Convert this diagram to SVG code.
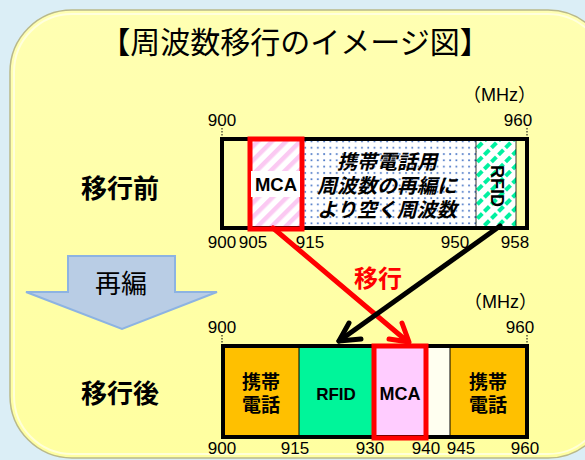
<svg xmlns="http://www.w3.org/2000/svg" width="585" height="460" viewBox="0 0 585 460">
<defs>
<style>
.jp{font-family:"Noto Sans CJK JP","Liberation Sans",sans-serif;}
.num{font-family:"Liberation Sans","Noto Sans CJK JP",sans-serif;font-size:17px;fill:#000;}
.mhz{font-family:"Noto Sans CJK JP","Liberation Sans",sans-serif;font-size:18px;fill:#000;}
.lat{font-family:"Liberation Sans",sans-serif;font-weight:bold;fill:#000;}
.bold{font-weight:bold;}
.band{fill:none;stroke:#000;stroke-width:4;}
.tick{stroke:#000;stroke-width:1;stroke-dasharray:1.5 1.5;}
</style>
<pattern id="dots" width="6.3" height="6.3" patternUnits="userSpaceOnUse" x="0" y="0">
<rect width="6.3" height="6.3" fill="#fff"/>
<rect x="2" y="2" width="1.7" height="1.7" fill="#4472c4"/>
</pattern>
<pattern id="pinkHatch" width="10" height="10" patternUnits="userSpaceOnUse" patternTransform="rotate(45)">
<rect width="10" height="10" fill="#fff"/>
<rect width="4.5" height="10" fill="#fbc9f2"/>
</pattern>
<pattern id="greenHatch" width="10" height="10" patternUnits="userSpaceOnUse" patternTransform="rotate(45)">
<rect width="10" height="10" fill="#fff"/>
<rect width="4" height="7" fill="#00f0a0"/>
</pattern>
<linearGradient id="panelG" x1="0" y1="0" x2="0" y2="1">
<stop offset="0" stop-color="#ffffb2"/>
<stop offset="1" stop-color="#ffffa0"/>
</linearGradient>
</defs>
<rect width="585" height="460" fill="#dbeef6"/>
<g id="panel">
<rect x="10" y="10" width="600" height="448" rx="62" ry="62" fill="url(#panelG)" stroke="#b9b98a" stroke-width="1.5"/>
<rect x="14" y="14" width="592" height="440" rx="58" ry="58" fill="none" stroke="#fffff0" stroke-width="2" opacity="0.7"/>
</g>
<g id="title">
<text x="295" y="53" text-anchor="middle" class="jp" font-size="30" fill="#000">【周波数移行のイメージ図】</text>
</g>
<g id="before-label">
<text x="120" y="198" text-anchor="middle" class="jp bold" font-size="26" fill="#000">移行前</text>
</g>
<g id="after-label">
<text x="120" y="403" text-anchor="middle" class="jp bold" font-size="26" fill="#000">移行後</text>
</g>
<g id="reorg-arrow">
<polygon points="68,256 175,256 175,292 217,292 122,329 26,292 68,292" fill="#b9cde5" stroke="#8db3e2" stroke-width="2"/>
<text x="121" y="293" text-anchor="middle" class="jp" font-size="26" fill="#000">再編</text>
</g>
<g id="band-before">
<text x="536" y="101" text-anchor="end" class="mhz">（<tspan font-family="Liberation Sans, sans-serif">MHz</tspan>）</text>
<text x="222" y="126" text-anchor="middle" class="num">900</text>
<text x="518" y="126" text-anchor="middle" class="num">960</text>
<line x1="222" y1="128" x2="222" y2="138" class="tick"/>
<line x1="527" y1="128" x2="527" y2="138" class="tick"/>
<rect x="303" y="140" width="173" height="87" fill="url(#dots)"/>
<rect x="476" y="140" width="40" height="87" fill="url(#greenHatch)"/>
<rect x="250" y="140" width="52" height="87" fill="url(#pinkHatch)"/>
<rect x="222" y="139" width="305" height="89" class="band"/>
<line x1="303" y1="139" x2="303" y2="228" stroke="#000" stroke-width="0.8"/>
<line x1="476" y1="139" x2="476" y2="228" stroke="#000" stroke-width="0.8"/>
<line x1="516" y1="139" x2="516" y2="228" stroke="#000" stroke-width="0.8"/>
<rect x="250" y="139" width="52" height="90" fill="none" stroke="#ff0000" stroke-width="5"/>
<rect x="251" y="171" width="49" height="26" fill="#fff"/>
<text x="276" y="191" text-anchor="middle" class="lat" font-size="18.5">MCA</text>
<text x="497" y="186" text-anchor="middle" dominant-baseline="central" transform="rotate(90 497 186)" class="lat" font-size="18">RFID</text>
<g class="jp bold" font-size="20" font-style="italic" fill="#000" text-anchor="middle">
<text x="387" y="169">携帯電話用</text>
<text x="387" y="193">周波数の再編に</text>
<text x="387" y="217">より空く周波数</text>
</g>
<text x="222" y="248" text-anchor="middle" class="num">900</text>
<text x="253" y="248" text-anchor="middle" class="num">905</text>
<text x="310" y="248" text-anchor="middle" class="num">915</text>
<text x="455" y="248" text-anchor="middle" class="num">950</text>
<text x="515" y="248" text-anchor="middle" class="num">958</text>
</g>
<g id="band-after">
<text x="537" y="308" text-anchor="end" class="mhz">（<tspan font-family="Liberation Sans, sans-serif">MHz</tspan>）</text>
<text x="222" y="333" text-anchor="middle" class="num">900</text>
<text x="520" y="333" text-anchor="middle" class="num">960</text>
<line x1="222" y1="335" x2="222" y2="346" class="tick"/>
<line x1="527" y1="335" x2="527" y2="346" class="tick"/>
<rect x="223" y="347" width="76" height="89" fill="#ffc000"/>
<rect x="299" y="347" width="74" height="89" fill="#00f59a"/>
<rect x="375" y="347" width="51" height="89" fill="#ffccff"/>
<rect x="426" y="347" width="24" height="89" fill="#fffff0"/>
<rect x="450" y="347" width="77" height="89" fill="#ffc000"/>
<line x1="299" y1="347" x2="299" y2="436" stroke="#000" stroke-width="1"/>
<line x1="450" y1="347" x2="450" y2="436" stroke="#000" stroke-width="1"/>
<rect x="223" y="346" width="304" height="91" class="band"/>
<rect x="374" y="346" width="52" height="92" fill="none" stroke="#ff0000" stroke-width="5"/>
<g class="jp bold" font-size="19" fill="#000" text-anchor="middle">
<text x="261" y="389">携帯</text>
<text x="261" y="412">電話</text>
<text x="488" y="389">携帯</text>
<text x="488" y="412">電話</text>
</g>
<text x="336" y="400" text-anchor="middle" class="lat" font-size="17">RFID</text>
<text x="400" y="400" text-anchor="middle" class="lat" font-size="18">MCA</text>
<text x="222" y="454" text-anchor="middle" class="num">900</text>
<text x="295" y="454" text-anchor="middle" class="num">915</text>
<text x="370" y="454" text-anchor="middle" class="num">930</text>
<text x="426" y="454" text-anchor="middle" class="num">940</text>
<text x="461" y="454" text-anchor="middle" class="num">945</text>
<text x="525" y="454" text-anchor="middle" class="num">960</text>
</g>
<g id="connectors" fill="none" stroke-width="5" stroke-linecap="round" stroke-linejoin="round">
<line x1="273" y1="228" x2="408" y2="342" stroke="#ff0000"/>
<polyline points="402,323 409,342 389,339" stroke="#ff0000"/>
<line x1="500" y1="226" x2="339" y2="341" stroke="#000"/>
<polyline points="349,323 339,341 361,339" stroke="#000"/>
</g>
<g id="move-label">
<text x="378" y="287" text-anchor="middle" class="jp bold" font-size="24" fill="#ff0000">移行</text>
</g>
</svg>
